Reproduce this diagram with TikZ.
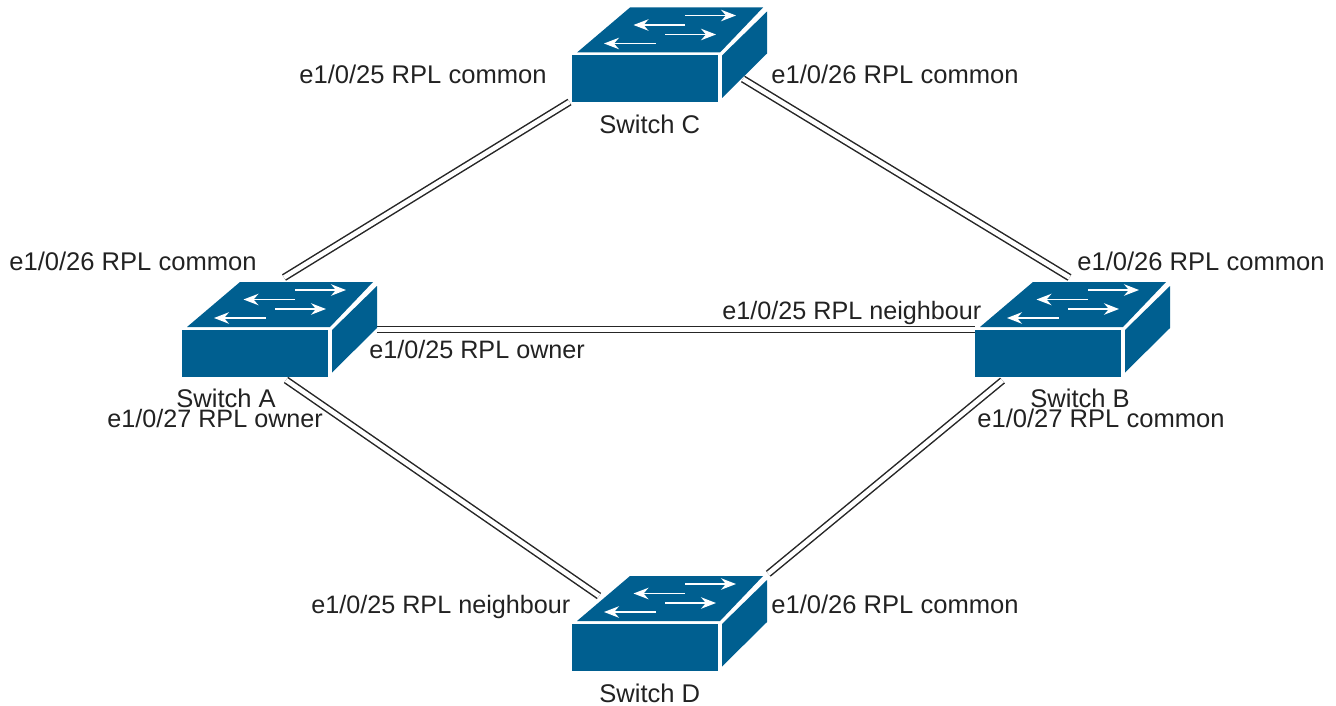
\documentclass[tikz,border=0pt]{standalone}
\usepackage{fontspec}
\setmainfont{Liberation Sans}
\usetikzlibrary{arrows.meta}
\definecolor{switchblue}{HTML}{005F90}
\definecolor{labelgray}{HTML}{222222}
\tikzset{
	switchbox/.style={minimum width=3.9cm,minimum height=1.9cm,inner sep=0pt},
	ringlink/.style={double,double distance=2.6pt,line width=0.85pt,draw=black!85},
	portlabel/.style={anchor=base west,inner sep=0pt,font=\fontsize{14.55pt}{16pt}\selectfont,text=labelgray},
	portlabelnarrow/.style={portlabel,font=\fontsize{14.33pt}{16pt}\selectfont},
	pics/switchicon/.style={code={
		\fill[switchblue](-97.5,0.5) rectangle (48.5,47.5);
		\fill[switchblue](-92.5,-2.5)--(-39.5,-47.5)--(93.5,-47.5)--(50.5,-2.5)--cycle;
		\fill[switchblue](52.5,0.5)--(97.5,-43.5)--(97.5,-1.5)--(52.5,43)--cycle;
		\foreach \xa/\xb/\ya in {15.5/66.5/-39.5,15.5/-36/-30,-4.5/46.5/-20.5,-13.5/-65.5/-11.5}
			\draw[white,line width=0.9pt,-{Stealth[length=8.5pt,width=6.5pt]}](\xa,\ya)--(\xb,\ya);
	}}
}
\begin{document}
\begin{tikzpicture}[x=0.02cm,y=-0.02cm]
	\useasboundingbox (0,0) rectangle (1336,706);
	
	\node[switchbox] (swA) at (279.5,329.5) {};
	\node[switchbox] (swB) at (1072.5,329.5) {};
	\node[switchbox] (swC) at (669.5,55) {};
	\node[switchbox] (swD) at (669.5,623.5) {};
	
	\coordinate (swAtop) at (284,277.5);
	\coordinate (swAlow) at (286,380);
	\coordinate (swBtop) at (1069.5,277.5);
	\coordinate (swBlow) at (1002.5,380.5);
	\coordinate (swCleft) at (569.5,102);
	\coordinate (swCright) at (743,79);
	\coordinate (swDleft) at (599,596);
	\coordinate (swDright) at (768.3,573.7);
	
	\draw[ringlink](swAtop)--(swCleft);
	\draw[ringlink](swCright)--(swBtop);
	\draw[ringlink](swA.east)--(swB.west);
	\draw[ringlink](swAlow)--(swDleft);
	\draw[ringlink](swBlow)--(swDright);
	
	\pic at (swA) {switchicon};
	\pic at (swB) {switchicon};
	\pic at (swC) {switchicon};
	\pic at (swD) {switchicon};
	
	\node[portlabel] (nameA) at (176,407) {Switch A};
	\node[portlabel] (nameB) at (1030,407) {Switch B};
	\node[portlabel] (nameC) at (599,133.5) {Switch C};
	\node[portlabel] (nameD) at (599,702) {Switch D};
	
	\node[portlabel] (portCa) at (299,84) {e1/0/25 RPL common};
	\node[portlabel] (portCb) at (771,84) {e1/0/26 RPL common};
	\node[portlabel] (portAa) at (9,270) {e1/0/26 RPL common};
	\node[portlabel] (portBa) at (1077,270) {e1/0/26 RPL common};
	\node[portlabelnarrow] (portBb) at (722,319) {e1/0/25 RPL neighbour};
	\node[portlabelnarrow] (portAb) at (369,358) {e1/0/25 RPL owner};
	\node[portlabelnarrow] (portAc) at (107,427) {e1/0/27 RPL owner};
	\node[portlabel] (portBc) at (977,427) {e1/0/27 RPL common};
	\node[portlabelnarrow] (portDa) at (311,613) {e1/0/25 RPL neighbour};
	\node[portlabel] (portDb) at (771,613) {e1/0/26 RPL common};
	
\end{tikzpicture}
\end{document}
